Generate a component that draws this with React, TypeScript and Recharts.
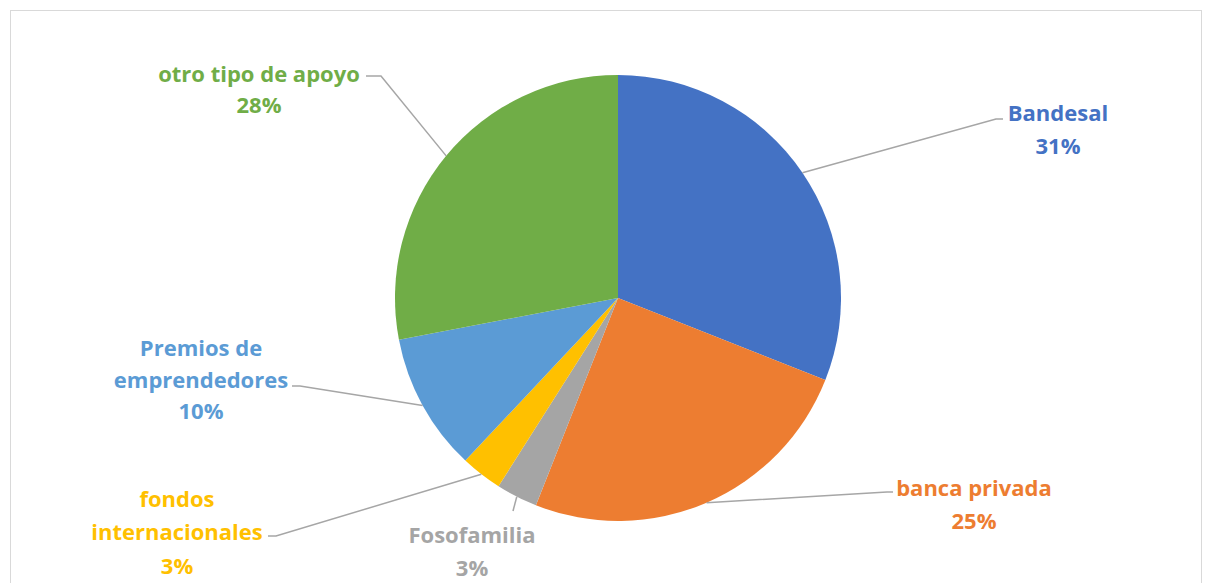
import { PieChart, Pie, Cell } from 'recharts'

const categories = [
  'Bandesal',
  'banca privada',
  'Fosofamilia',
  'fondos internacionales',
  'Premios de emprendedores',
  'otro tipo de apoyo',
]
const shares = [31, 25, 3, 3, 10, 28]
const colors = ['#4472C4', '#ED7D31', '#A5A5A5', '#FFC000', '#5B9BD5', '#70AD47']

const data = categories.map((name, i) => ({ name, value: shares[i] }))

// label placement relative to the pie centre (Excel-style manual labels)
const labelLayout = [
  { elbow: [378, -179], end: [385, -179], x: 440, ys: [-186, -153], breakAfter: 0 },
  { elbow: [269, 194], end: [275, 194], x: 356, ys: [189, 222], breakAfter: 0 },
  { elbow: [-105, 213], end: [-105, 213], x: -146, ys: [236, 269], breakAfter: 0 },
  { elbow: [-342, 238], end: [-350, 238], x: -441, ys: [200, 233, 267], breakAfter: 1 },
  { elbow: [-318, 88], end: [-326, 88], x: -417, ys: [49, 81, 112], breakAfter: 2 },
  { elbow: [-237, -222], end: [-252, -222], x: -359, ys: [-225, -194], breakAfter: 0 },
]

const RAD = Math.PI / 180

function renderLabel(props: any) {
  const { cx, cy, midAngle, outerRadius, index, value } = props
  const lay = labelLayout[index]
  const sx = cx + outerRadius * Math.cos(-midAngle * RAD)
  const sy = cy + outerRadius * Math.sin(-midAngle * RAD)
  const words = categories[index].split(' ')
  const lines =
    lay.breakAfter > 0
      ? [words.slice(0, lay.breakAfter).join(' '), words.slice(lay.breakAfter).join(' ')]
      : [categories[index]]
  lines.push(`${value}%`)
  return (
    <g key={`lbl-${index}`}>
      <polyline
        points={`${sx},${sy} ${cx + lay.elbow[0]},${cy + lay.elbow[1]} ${cx + lay.end[0]},${cy + lay.end[1]}`}
        fill="none"
        stroke="#A6A6A6"
        strokeWidth={1.5}
      />
      {lines.map((t, j) => (
        <text
          key={j}
          x={cx + lay.x}
          y={cy + lay.ys[j]}
          textAnchor="middle"
          dominantBaseline="central"
          fill={colors[index]}
          fontSize={22}
          fontWeight={700}
          fontFamily="'Open Sans', Lato, sans-serif"
        >
          {t}
        </text>
      ))}
    </g>
  )
}

export default function App() {
  return (
    <div
      style={{
        position: 'absolute',
        left: 0,
        top: 0,
        width: 1211,
        height: 583,
        background: '#fff',
        overflow: 'hidden',
      }}
    >
      <div
        style={{
          position: 'absolute',
          left: 10,
          top: 10,
          width: 1190,
          height: 600,
          border: '1.5px solid #D9D9D9',
        }}
      />
      <div style={{ position: 'absolute', left: 0, top: 0 }}>
        <PieChart width={1211} height={583} margin={{ top: 0, right: 0, bottom: 0, left: 0 }}>
          <Pie
            data={data}
            dataKey="value"
            nameKey="name"
            cx={618}
            cy={298}
            outerRadius={223}
            startAngle={90}
            endAngle={-270}
            stroke="none"
            label={renderLabel}
            labelLine={false}
            isAnimationActive={false}
          >
            {data.map((d, i) => (
              <Cell key={d.name} fill={colors[i]} />
            ))}
          </Pie>
        </PieChart>
      </div>
    </div>
  )
}
